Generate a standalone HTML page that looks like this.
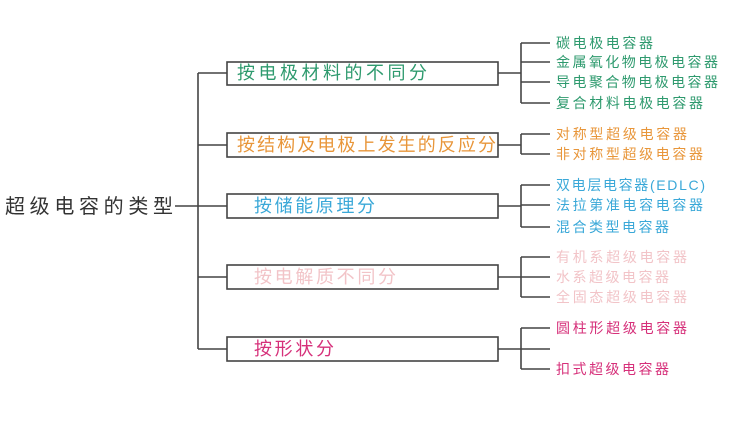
<!DOCTYPE html>
<html><head><meta charset="utf-8"><style>
html,body{margin:0;padding:0;background:#fff;}
svg{display:block;}
text{font-family:"Liberation Sans","Noto Sans CJK SC",sans-serif;}
</style></head><body>
<svg width="736" height="424" xmlns="http://www.w3.org/2000/svg">
<g stroke="#444" stroke-width="1.6" fill="none">
<line x1="175" y1="206" x2="227" y2="206"/>
<line x1="198" y1="73" x2="198" y2="349"/>
<line x1="198" y1="73" x2="227" y2="73"/>
<line x1="198" y1="145" x2="227" y2="145"/>
<line x1="198" y1="277" x2="227" y2="277"/>
<line x1="198" y1="349" x2="227" y2="349"/>
<rect x="227" y="62" width="271" height="23"/>
<rect x="227" y="133" width="271" height="24"/>
<rect x="227" y="194" width="271" height="24"/>
<rect x="227" y="265" width="271" height="24"/>
<rect x="227" y="337" width="271" height="24"/>
<line x1="498" y1="73" x2="521" y2="73"/>
<line x1="521" y1="43" x2="521" y2="103"/>
<line x1="521" y1="43" x2="550" y2="43"/><line x1="521" y1="62" x2="550" y2="62"/><line x1="521" y1="82" x2="550" y2="82"/><line x1="521" y1="103" x2="550" y2="103"/>
<line x1="498" y1="145" x2="521" y2="145"/>
<line x1="521" y1="134" x2="521" y2="154"/>
<line x1="521" y1="134" x2="550" y2="134"/><line x1="521" y1="154" x2="550" y2="154"/>
<line x1="498" y1="206" x2="521" y2="206"/>
<line x1="521" y1="185" x2="521" y2="227"/>
<line x1="521" y1="185" x2="550" y2="185"/><line x1="521" y1="205" x2="550" y2="205"/><line x1="521" y1="227" x2="550" y2="227"/>
<line x1="498" y1="277" x2="521" y2="277"/>
<line x1="521" y1="257" x2="521" y2="297"/>
<line x1="521" y1="257" x2="550" y2="257"/><line x1="521" y1="277" x2="550" y2="277"/><line x1="521" y1="297" x2="550" y2="297"/>
<line x1="498" y1="349" x2="550" y2="349"/>
<line x1="521" y1="328" x2="521" y2="369"/>
<line x1="521" y1="328" x2="550" y2="328"/><line x1="521" y1="369" x2="550" y2="369"/>
</g>
<text x="5" y="213" font-size="20" textLength="168" lengthAdjust="spacing" fill="#333">超级电容的类型</text>
<g font-size="18" dominant-baseline="central">
<text x="237" y="73" fill="#2e9a6e" textLength="190" lengthAdjust="spacing">按电极材料的不同分</text>
<text x="237" y="145" fill="#e8963a" textLength="259" lengthAdjust="spacing">按结构及电极上发生的反应分</text>
<text x="254" y="206" fill="#3aa8d8" textLength="121" lengthAdjust="spacing">按储能原理分</text>
<text x="254" y="277" fill="#f2c4c8" textLength="142" lengthAdjust="spacing">按电解质不同分</text>
<text x="254" y="349" fill="#d6307a" textLength="80" lengthAdjust="spacing">按形状分</text>
</g>
<g font-size="14" dominant-baseline="central">
<g fill="#2e9a6e">
<text x="556" y="43" textLength="97" lengthAdjust="spacing">碳电极电容器</text>
<text x="556" y="62" textLength="162" lengthAdjust="spacing">金属氧化物电极电容器</text>
<text x="556" y="82" textLength="162" lengthAdjust="spacing">导电聚合物电极电容器</text>
<text x="556" y="103" textLength="147" lengthAdjust="spacing">复合材料电极电容器</text>
</g>
<g fill="#e8963a">
<text x="556" y="134" textLength="131" lengthAdjust="spacing">对称型超级电容器</text>
<text x="556" y="154" textLength="147" lengthAdjust="spacing">非对称型超级电容器</text>
</g>
<g fill="#3aa8d8">
<text x="556" y="185" textLength="149" lengthAdjust="spacing">双电层电容器(EDLC)</text>
<text x="556" y="205" textLength="147" lengthAdjust="spacing">法拉第准电容电容器</text>
<text x="556" y="227" textLength="113" lengthAdjust="spacing">混合类型电容器</text>
</g>
<g fill="#f2c4c8">
<text x="556" y="257" textLength="131" lengthAdjust="spacing">有机系超级电容器</text>
<text x="556" y="277" textLength="113" lengthAdjust="spacing">水系超级电容器</text>
<text x="556" y="297" textLength="131" lengthAdjust="spacing">全固态超级电容器</text>
</g>
<g fill="#d6307a">
<text x="556" y="328" textLength="131" lengthAdjust="spacing">圆柱形超级电容器</text>
<text x="556" y="369" textLength="113" lengthAdjust="spacing">扣式超级电容器</text>
</g>
</g>
</svg>
</body></html>
